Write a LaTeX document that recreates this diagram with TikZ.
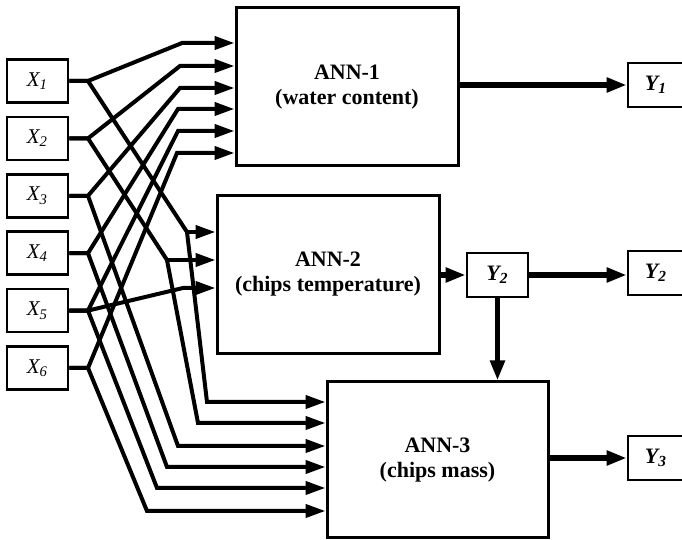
\documentclass[tikz,border=0pt]{standalone}
\usepackage{fontspec}
\setmainfont{Liberation Serif}
\usetikzlibrary{arrows.meta}

\begin{document}
\begin{tikzpicture}[x=0.5pt,y=-0.5pt,
        inbox/.style={draw,line width=1.3pt,minimum width=30.5pt,minimum height=21.5pt,inner sep=0pt,
            font=\fontsize{10.5}{12}\selectfont\itshape},
        resultbox/.style={draw,line width=1.3pt,minimum width=30.5pt,minimum height=22pt,inner sep=0pt,
            font=\fontsize{11}{13}\selectfont\bfseries\itshape},
        annbox/.style={draw,line width=1.5pt,minimum width=111pt,minimum height=79pt,inner sep=0pt,
            align=center,font=\fontsize{11}{12.5}\selectfont\bfseries},
        feed/.style={line width=2pt,-{Triangle[length=10pt,width=6.5pt]}},
        result/.style={line width=2.6pt,-{Triangle[length=10pt,width=7pt]}}]
                \useasboundingbox (0,0) rectangle (682,540);
                \clip (0,0) rectangle (682,540);

                \node[inbox] (x1) at (37.5,81) {X\textsubscript{1}};
                \node[inbox] (x2) at (37.5,138.4) {X\textsubscript{2}};
                \node[inbox] (x3) at (37.5,195.8) {X\textsubscript{3}};
                \node[inbox] (x4) at (37.5,253.2) {X\textsubscript{4}};
                \node[inbox] (x5) at (37.5,310.6) {X\textsubscript{5}};
                \node[inbox] (x6) at (37.5,368) {X\textsubscript{6}};

                \node[annbox] (ann1) at (347,87) {ANN-1\\(water content)};
                \node[annbox] (ann2) at (328,274.5) {ANN-2\\(chips temperature)};
                \node[annbox,minimum width=110.5pt,minimum height=78pt] (ann3) at (437.5,460) {ANN-3\\(chips mass)};

                \node[resultbox] (y2a) at (497.5,275) {Y\textsubscript{2}};
                \node[resultbox,minimum width=28pt] (y1) at (656,85) {Y\textsubscript{1}};
                \node[resultbox,minimum width=28pt] (y2b) at (656,273) {Y\textsubscript{2}};
                \node[resultbox,minimum width=28pt] (y3) at (656,458) {Y\textsubscript{3}};

                \coordinate (b1) at (88,81);
                \coordinate (b2) at (88,138.4);
                \coordinate (b3) at (88,195.8);
                \coordinate (b4) at (88,253.2);
                \coordinate (b5) at (88,310.6);
                \coordinate (b6) at (88,368);

                \coordinate (u1) at (182,43);
                \coordinate (u2) at (180,66);
                \coordinate (u3) at (180,88);
                \coordinate (u4) at (178,109);
                \coordinate (u5) at (178,131);
                \coordinate (u6) at (177,153);

                \coordinate (p1) at (187,232);
                \coordinate (p2) at (167,260);
                \coordinate (q5) at (183,288);

                \coordinate (d1) at (207,402);
                \coordinate (d2) at (198,423);
                \coordinate (d3) at (178,446);
                \coordinate (d4) at (167,467);
                \coordinate (d5) at (157,488);
                \coordinate (d6) at (147,511);

                \draw[feed] (x1.east) -- (b1) -- (u1) -- (ann1.west |- u1);
                \draw[feed] (x2.east) -- (b2) -- (u2) -- (ann1.west |- u2);
                \draw[feed] (x3.east) -- (b3) -- (u3) -- (ann1.west |- u3);
                \draw[feed] (x4.east) -- (b4) -- (u4) -- (ann1.west |- u4);
                \draw[feed] (x5.east) -- (b5) -- (u5) -- (ann1.west |- u5);
                \draw[feed] (x6.east) -- (b6) -- (u6) -- (ann1.west |- u6);

                \draw[feed] (x1.east) -- (b1) -- (p1) -- (d1) -- (ann3.west |- d1);
                \draw[feed] (x2.east) -- (b2) -- (p2) -- (d2) -- (ann3.west |- d2);
                \draw[feed] (p1) -- (ann2.west |- p1);
                \draw[feed] (p2) -- (ann2.west |- p2);
                \draw[feed] (x5.east) -- (b5) -- (q5) -- (ann2.west |- q5);

                \draw[feed] (x3.east) -- (b3) -- (d3) -- (ann3.west |- d3);
                \draw[feed] (x4.east) -- (b4) -- (d4) -- (ann3.west |- d4);
                \draw[feed] (x5.east) -- (b5) -- (d5) -- (ann3.west |- d5);
                \draw[feed] (x6.east) -- (b6) -- (d6) -- (ann3.west |- d6);

                \draw[result] (ann1.east |- y1.west) -- (y1.west);
                \draw[result] (ann2.east |- y2a.west) -- (y2a.west);
                \draw[result] (y2a.east) -- (y2a.east -| y2b.west);
                \draw[result] (y2a.south) -- (y2a.south |- ann3.north);
                \draw[result] (ann3.east |- y3.west) -- (y3.west);
            \end{tikzpicture}
\end{document}
